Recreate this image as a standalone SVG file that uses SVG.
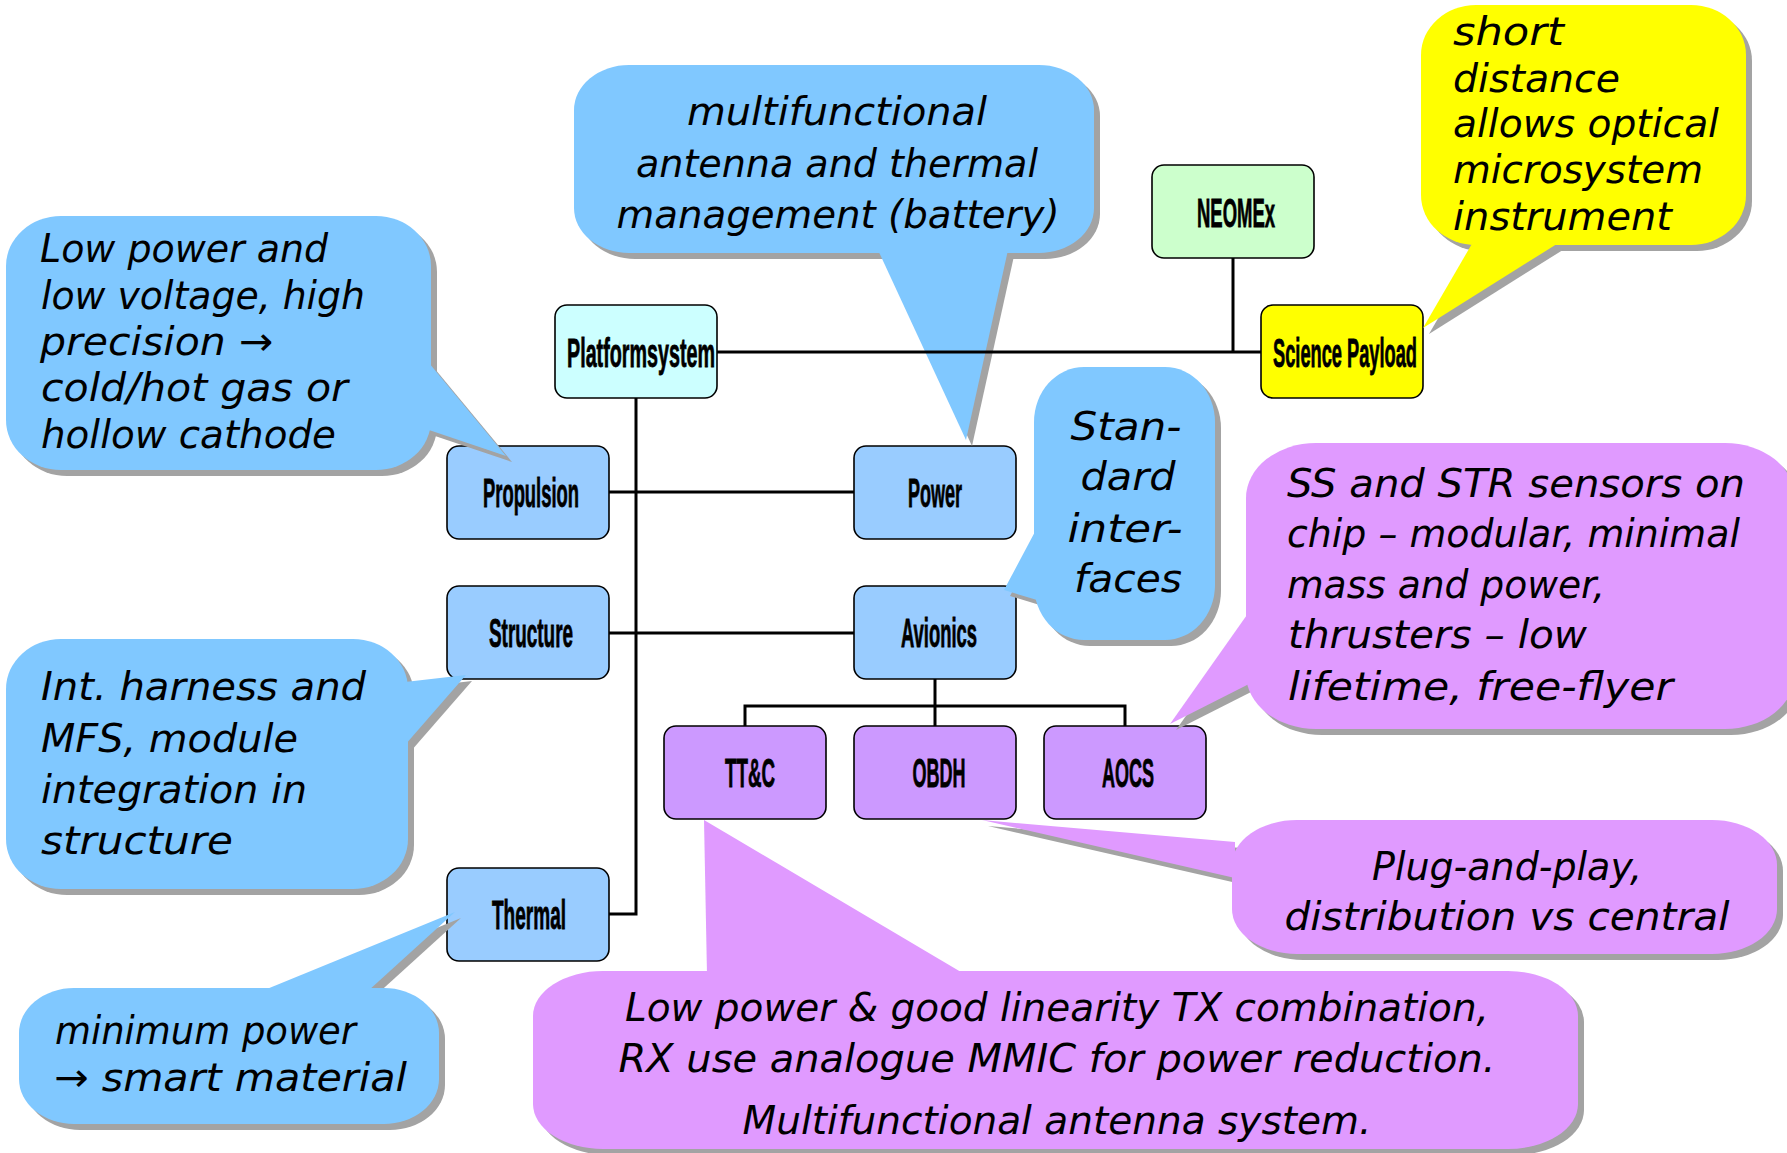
<svg xmlns="http://www.w3.org/2000/svg" xmlns:xlink="http://www.w3.org/1999/xlink" width="1787" height="1153" viewBox="0 0 1787 1153">
<style>
.node rect{stroke:#000;stroke-width:1.6}
.lbl{font-family:"Liberation Sans",Arial,sans-serif;font-weight:bold;font-size:40px;text-anchor:middle;fill:#000;stroke:#000;stroke-width:0.8}
.note{font-family:"DejaVu Sans",sans-serif;font-style:italic;font-size:39px;fill:#000}
.mid{text-anchor:middle}
.conn{stroke:#000;stroke-width:3;fill:none}
.sh{fill:#a3a3a3}
.blue{fill:#80c8ff}
.purple{fill:#e09aff}
.yellow{fill:#ffff00}
</style>
<defs>
<g id="s-battery"><rect x="574" y="65" width="520" height="188" rx="55" ry="45"/><polygon points="878,250 1008,250 966,440"/></g>
<g id="s-prop"><rect x="6" y="216" width="425" height="254" rx="55" ry="50"/><polygon points="429,363 429,430 506,456"/></g>
<g id="s-std"><rect x="1034" y="367" width="181" height="273" rx="50" ry="55"/><polygon points="1037,528 1004,590 1037,600"/></g>
<g id="s-short"><rect x="1421" y="5" width="325" height="240" rx="55" ry="50"/><polygon points="1473,242 1560,242 1423,328"/></g>
<g id="s-ss"><rect x="1246" y="443" width="549" height="286" rx="70" ry="55"/><polygon points="1249,612 1249,684 1170,724"/></g>
<g id="s-plug"><rect x="1232" y="820" width="545" height="134" rx="65" ry="45"/><polygon points="1235,842 1235,878 982,820"/></g>
<g id="s-low"><rect x="533" y="971" width="1045" height="178" rx="70" ry="45"/><polygon points="707,975 966,975 704,820"/></g>
<g id="s-int"><rect x="6" y="639" width="402" height="250" rx="55" ry="50"/><polygon points="405,682 466,675 405,745"/></g>
<g id="s-min"><rect x="19" y="988" width="420" height="136" rx="55" ry="45"/><polygon points="262,991 368,991 455,912"/></g>
</defs>

<g id="nodes">
<g id="n-platform" class="node"><rect x="555" y="305" width="162" height="93" rx="12" fill="#ccffff"/><text class="lbl" x="641" y="367" textLength="148" lengthAdjust="spacingAndGlyphs">Platformsystem</text></g>
<g id="n-neomex" class="node"><rect x="1152" y="165" width="162" height="93" rx="12" fill="#ccffcc"/><text class="lbl" x="1236" y="227" textLength="78" lengthAdjust="spacingAndGlyphs">NEOMEx</text></g>
<g id="n-science" class="node"><rect x="1261" y="305" width="162" height="93" rx="12" fill="#ffff00"/><text class="lbl" x="1345" y="367" textLength="144" lengthAdjust="spacingAndGlyphs">Science Payload</text></g>
<g id="n-propulsion" class="node"><rect x="447" y="446" width="162" height="93" rx="12" fill="#99ccff"/><text class="lbl" x="531" y="507" textLength="96" lengthAdjust="spacingAndGlyphs">Propulsion</text></g>
<g id="n-power" class="node"><rect x="854" y="446" width="162" height="93" rx="12" fill="#99ccff"/><text class="lbl" x="935" y="507" textLength="54" lengthAdjust="spacingAndGlyphs">Power</text></g>
<g id="n-structure" class="node"><rect x="447" y="586" width="162" height="93" rx="12" fill="#99ccff"/><text class="lbl" x="531" y="647" textLength="84" lengthAdjust="spacingAndGlyphs">Structure</text></g>
<g id="n-avionics" class="node"><rect x="854" y="586" width="162" height="93" rx="12" fill="#99ccff"/><text class="lbl" x="939" y="647" textLength="76" lengthAdjust="spacingAndGlyphs">Avionics</text></g>
<g id="n-ttc" class="node"><rect x="664" y="726" width="162" height="93" rx="12" fill="#cc99ff"/><text class="lbl" x="750" y="787" textLength="50" lengthAdjust="spacingAndGlyphs">TT&amp;C</text></g>
<g id="n-obdh" class="node"><rect x="854" y="726" width="162" height="93" rx="12" fill="#cc99ff"/><text class="lbl" x="939" y="787" textLength="53" lengthAdjust="spacingAndGlyphs">OBDH</text></g>
<g id="n-aocs" class="node"><rect x="1044" y="726" width="162" height="93" rx="12" fill="#cc99ff"/><text class="lbl" x="1128" y="787" textLength="52" lengthAdjust="spacingAndGlyphs">AOCS</text></g>
<g id="n-thermal" class="node"><rect x="447" y="868" width="162" height="93" rx="12" fill="#99ccff"/><text class="lbl" x="529" y="929" textLength="74" lengthAdjust="spacingAndGlyphs">Thermal</text></g>
</g>

<g id="callouts">
<g id="c-battery"><use xlink:href="#s-battery" class="sh" transform="translate(6,6)"/><use xlink:href="#s-battery" class="blue"/>
<text class="note mid" x="837" y="125" textLength="300" lengthAdjust="spacingAndGlyphs">multifunctional</text>
<text class="note mid" x="837" y="177" textLength="402" lengthAdjust="spacingAndGlyphs">antenna and thermal</text>
<text class="note mid" x="838" y="228" textLength="443" lengthAdjust="spacingAndGlyphs">management (battery)</text></g>

<g id="c-propulsion"><use xlink:href="#s-prop" class="sh" transform="translate(6,6)"/><use xlink:href="#s-prop" class="blue"/>
<text class="note" x="40" y="262" font-size="38" textLength="288" lengthAdjust="spacingAndGlyphs">Low power and</text>
<text class="note" x="41" y="309" font-size="38" textLength="324" lengthAdjust="spacingAndGlyphs">low voltage, high</text>
<text class="note" x="40" y="355" font-size="38" textLength="233" lengthAdjust="spacingAndGlyphs">precision →</text>
<text class="note" x="41" y="401" font-size="38" textLength="307" lengthAdjust="spacingAndGlyphs">cold/hot gas or</text>
<text class="note" x="41" y="448" font-size="38" textLength="295" lengthAdjust="spacingAndGlyphs">hollow cathode</text></g>

<g id="c-standard"><use xlink:href="#s-std" class="sh" transform="translate(6,6)"/><use xlink:href="#s-std" class="blue"/>
<text class="note mid" x="1126" y="440" font-size="40" textLength="111" lengthAdjust="spacingAndGlyphs">Stan-</text>
<text class="note mid" x="1128" y="490" font-size="40" textLength="95" lengthAdjust="spacingAndGlyphs">dard</text>
<text class="note mid" x="1125" y="542" font-size="40" textLength="115" lengthAdjust="spacingAndGlyphs">inter-</text>
<text class="note mid" x="1128" y="592" font-size="40" textLength="108" lengthAdjust="spacingAndGlyphs">faces</text></g>

<g id="c-short"><use xlink:href="#s-short" class="sh" transform="translate(6,6)"/><use xlink:href="#s-short" class="yellow"/>
<text class="note" x="1453" y="45" textLength="111" lengthAdjust="spacingAndGlyphs">short</text>
<text class="note" x="1453" y="92" textLength="167" lengthAdjust="spacingAndGlyphs">distance</text>
<text class="note" x="1453" y="137" textLength="266" lengthAdjust="spacingAndGlyphs">allows optical</text>
<text class="note" x="1453" y="183" textLength="250" lengthAdjust="spacingAndGlyphs">microsystem</text>
<text class="note" x="1453" y="230" textLength="219" lengthAdjust="spacingAndGlyphs">instrument</text></g>

<g id="c-sensors"><use xlink:href="#s-ss" class="sh" transform="translate(6,6)"/><use xlink:href="#s-ss" class="purple"/>
<text class="note" x="1287" y="497" font-size="41" textLength="458" lengthAdjust="spacingAndGlyphs">SS and STR sensors on</text>
<text class="note" x="1287" y="547" font-size="41" textLength="453" lengthAdjust="spacingAndGlyphs">chip – modular, minimal</text>
<text class="note" x="1287" y="598" font-size="41" textLength="318" lengthAdjust="spacingAndGlyphs">mass and power,</text>
<text class="note" x="1288" y="648" font-size="41" textLength="299" lengthAdjust="spacingAndGlyphs">thrusters – low</text>
<text class="note" x="1288" y="700" font-size="41" textLength="385" lengthAdjust="spacingAndGlyphs">lifetime, free-flyer</text></g>

<g id="c-plug"><use xlink:href="#s-plug" class="sh" transform="translate(6,6)"/><use xlink:href="#s-plug" class="purple"/>
<text class="note mid" x="1507" y="880" font-size="42" textLength="270" lengthAdjust="spacingAndGlyphs">Plug-and-play,</text>
<text class="note mid" x="1507" y="930" font-size="42" textLength="445" lengthAdjust="spacingAndGlyphs">distribution vs central</text></g>

<g id="c-ttc"><use xlink:href="#s-low" class="sh" transform="translate(6,6)"/><use xlink:href="#s-low" class="purple"/>
<text class="note mid" x="1057" y="1021" font-size="42" textLength="864" lengthAdjust="spacingAndGlyphs">Low power &amp; good linearity TX combination,</text>
<text class="note mid" x="1057" y="1072" font-size="42" textLength="877" lengthAdjust="spacingAndGlyphs">RX use analogue MMIC for power reduction.</text>
<text class="note mid" x="1057" y="1134" font-size="42" textLength="629" lengthAdjust="spacingAndGlyphs">Multifunctional antenna system.</text></g>

<g id="c-structure"><use xlink:href="#s-int" class="sh" transform="translate(6,6)"/><use xlink:href="#s-int" class="blue"/>
<text class="note" x="41" y="700" font-size="40" textLength="325" lengthAdjust="spacingAndGlyphs">Int. harness and</text>
<text class="note" x="41" y="752" font-size="40" textLength="257" lengthAdjust="spacingAndGlyphs">MFS, module</text>
<text class="note" x="41" y="803" font-size="40" textLength="266" lengthAdjust="spacingAndGlyphs">integration in</text>
<text class="note" x="41" y="854" font-size="40" textLength="192" lengthAdjust="spacingAndGlyphs">structure</text></g>

<g id="c-thermal"><use xlink:href="#s-min" class="sh" transform="translate(6,6)"/><use xlink:href="#s-min" class="blue"/>
<text class="note" x="55" y="1044" textLength="301" lengthAdjust="spacingAndGlyphs">minimum power</text>
<text class="note" x="54" y="1091" textLength="353" lengthAdjust="spacingAndGlyphs">→ smart material</text></g>
</g>

<g id="connectors" class="conn">
<path d="M717 352 H1261"/>
<path d="M1233 258 V352"/>
<path d="M636 398 V914 H609"/>
<path d="M609 492 H854"/>
<path d="M609 633 H854"/>
<path d="M935 679 V726"/>
<path d="M745 726 V706 H1125 V726"/>
</g>
</svg>
